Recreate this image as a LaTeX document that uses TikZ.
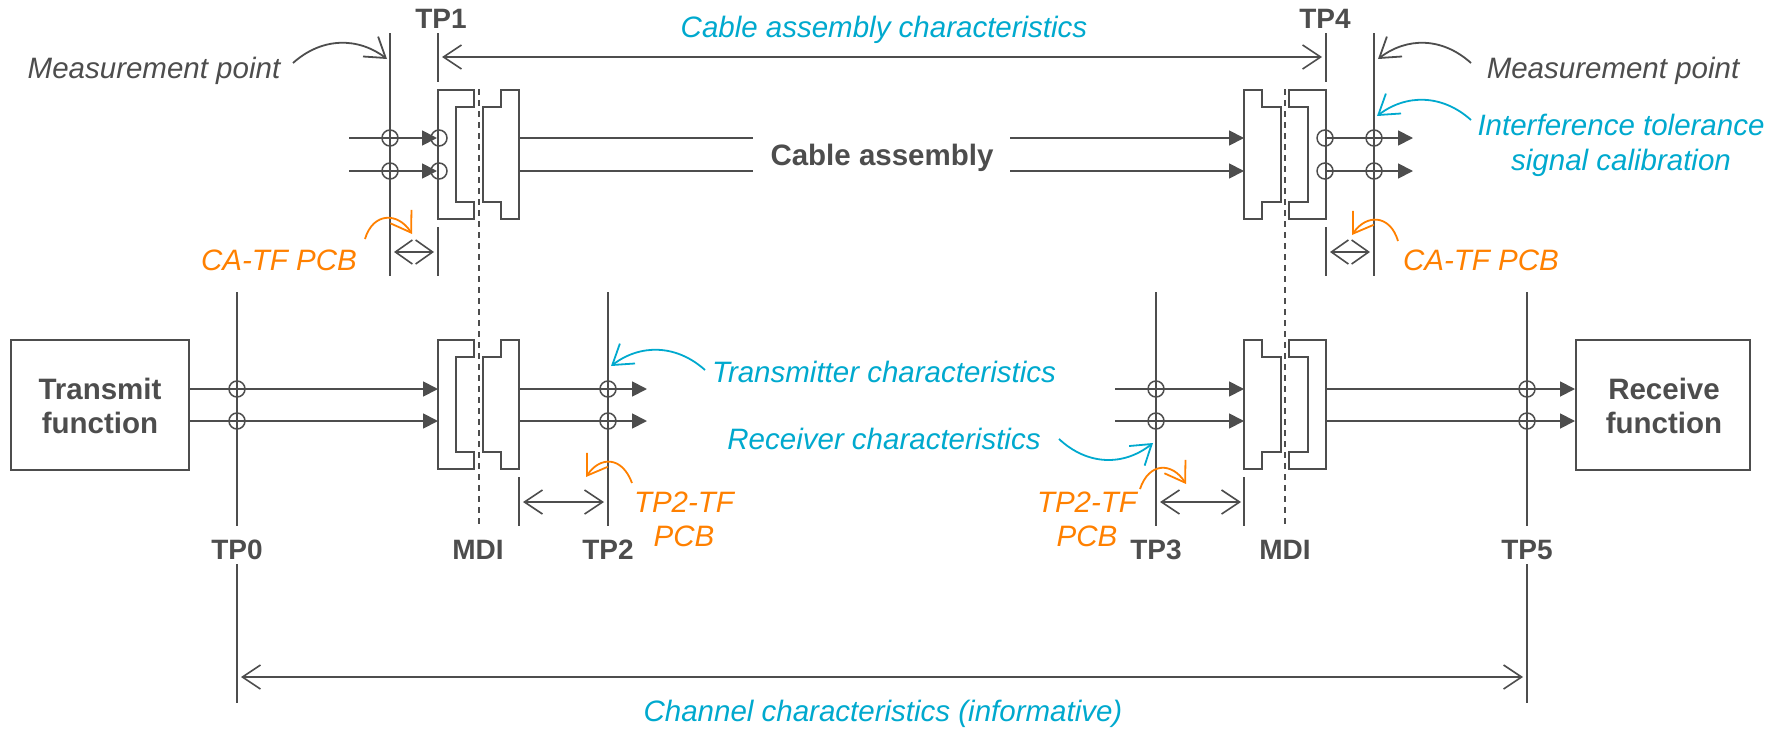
\documentclass[tikz,border=0pt]{standalone}
\usepackage{fontspec}
\setmainfont{Liberation Sans}
\usetikzlibrary{arrows.meta}
\definecolor{ink}{HTML}{4D4D4D}
\definecolor{sky}{HTML}{00A9CE}
\definecolor{amber}{HTML}{FF8000}
\tikzset{
  wire/.style={draw=ink,line width=1.8pt},
  flow/.style={wire,-{Triangle[length=15pt,width=15pt]}},
  span/.style={draw=ink,line width=1.6pt,{Straight Barb[length=18pt,width=24pt,line width=1.6pt]}-{Straight Barb[length=18pt,width=24pt,line width=1.6pt]}},
  spanshort/.style={draw=ink,line width=1.6pt,{Straight Barb[length=17pt,width=24pt,line width=1.6pt]}-{Straight Barb[length=17pt,width=24pt,line width=1.6pt]}},
  hook/.style={line width=1.8pt,-{Straight Barb[length=19pt,width=25pt,line width=1.8pt]}},
  probe/.style={circle,draw=ink,line width=1.5pt,minimum size=16pt,inner sep=0pt},
  mdiline/.style={draw=ink,line width=1.4pt,dash pattern=on 6pt off 5pt},
  part/.style={draw=ink,line width=1.7pt,line join=miter},
  blockbox/.style={draw=ink,line width=1.7pt,fill=white},
  hd/.style={text=ink,font=\fontsize{29.5}{34}\selectfont\bfseries,align=center,inner sep=0pt},
  tag/.style={text=ink,font=\fontsize{28}{32}\selectfont\bfseries,align=center,inner sep=0pt},
  note/.style={text=ink,font=\fontsize{29.5}{32}\selectfont\itshape,align=center,inner sep=0pt},
  cyannote/.style={text=sky,font=\fontsize{29.5}{35}\selectfont\itshape,align=center,inner sep=0pt},
  amnote/.style={text=amber,font=\fontsize{29.5}{34}\selectfont\itshape,align=center,inner sep=0pt},
  socketL/.pic={\draw[part] (36,0)--(0,0)--(0,129)--(36,129)--(36,112)--(18,112)--(18,17)--(36,17)--cycle;},
  plugL/.pic={\draw[part] (18,0)--(36,0)--(36,129)--(18,129)--(18,112)--(0,112)--(0,17)--(18,17)--cycle;},
  plugR/.pic={\draw[part] (18,0)--(0,0)--(0,129)--(18,129)--(18,112)--(37,112)--(37,17)--(18,17)--cycle;},
  socketR/.pic={\draw[part] (0,0)--(37,0)--(37,129)--(0,129)--(0,112)--(19,112)--(19,17)--(0,17)--cycle;},
}
\begin{document}
\begin{tikzpicture}[x=1pt,y=-1pt]
\useasboundingbox (0,0) rectangle (1779,728);
% connectors bodies
\pic at (438,90) {socketL}; \pic at (483,90) {plugL};
\pic at (1244,90) {plugR}; \pic at (1289,90) {socketR};
\pic at (438,340) {socketL}; \pic at (483,340) {plugL};
\pic at (1244,340) {plugR}; \pic at (1289,340) {socketR};
% blocks
\node[blockbox,minimum width=178pt,minimum height=130pt,inner sep=0pt,anchor=north west] (tx) at (10,339) {};
\node[blockbox,minimum width=174pt,minimum height=130pt,inner sep=0pt,anchor=north west] (rx) at (1575,339) {};
\node[hd] (txl) at (100,406) {Transmit\\function};
\node[hd] (rxl) at (1664,406) {Receive\\function};
% MDI lines
\coordinate (m1a) at (479,89); \coordinate (m1b) at (479,526);
\coordinate (m2a) at (1285,89); \coordinate (m2b) at (1285,526);
\draw[mdiline] (m1a)--(m1b);
\draw[mdiline] (m2a)--(m2b);
% vertical reference lines
\foreach \n/\x/\a/\b in {mpl/390/33/276,mpr/1374/33/276,tp1a/438/33/82,tp1b/438/227/276,tp4a/1326/33/82,tp4b/1326/227/276,
  tp0a/237/292/526,tp0b/237/564/703,tp5a/1527/292/526,tp5b/1527/564/703,tp2/608/292/526,tp3/1156/292/526,ka/519/477/526,kb/1244/477/526}{
  \coordinate (\n-s) at (\x,\a); \coordinate (\n-e) at (\x,\b);
  \draw[wire] (\n-s)--(\n-e);
}
% signal paths
\foreach \n/\y in {1/138,2/171}{
  \coordinate (ua\n) at (349,\y); \coordinate (ub\n) at (437,\y);
  \coordinate (uc\n) at (519,\y); \coordinate (ud\n) at (753,\y);
  \coordinate (ue\n) at (1010,\y); \coordinate (uf\n) at (1244,\y);
  \coordinate (ug\n) at (1326,\y); \coordinate (uh\n) at (1413,\y);
  \node[probe] (p1\n) at (390,\y) {};
  \node[probe] (p2\n) at (439,\y) {};
  \node[probe] (p3\n) at (1325,\y) {};
  \node[probe] (p4\n) at (1374,\y) {};
  \draw[flow] (ua\n)--(ub\n);
  \draw[wire] (uc\n)--(ud\n);
  \draw[flow] (ue\n)--(uf\n);
  \draw[flow] (ug\n)--(uh\n);
}
\foreach \n/\y in {1/389,2/421}{
  \coordinate (la\n) at (188,\y); \coordinate (lb\n) at (438,\y);
  \coordinate (lc\n) at (519,\y); \coordinate (ld\n) at (647,\y);
  \coordinate (le\n) at (1115,\y); \coordinate (lf\n) at (1244,\y);
  \coordinate (lg\n) at (1326,\y); \coordinate (lh\n) at (1575,\y);
  \node[probe] (q1\n) at (237,\y) {};
  \node[probe] (q2\n) at (608,\y) {};
  \node[probe] (q3\n) at (1156,\y) {};
  \node[probe] (q4\n) at (1527,\y) {};
  \draw[flow] (la\n)--(lb\n);
  \draw[flow] (lc\n)--(ld\n);
  \draw[flow] (le\n)--(lf\n);
  \draw[flow] (lg\n)--(lh\n);
}
% spans
\coordinate (sa1) at (442,57); \coordinate (sa2) at (1322,57);
\draw[span] (sa1)--(sa2);
\coordinate (sb1) at (394,252); \coordinate (sb2) at (434,252);
\draw[spanshort] (sb1)--(sb2);
\coordinate (sc1) at (1330,252); \coordinate (sc2) at (1370,252);
\draw[spanshort] (sc1)--(sc2);
\coordinate (sd1) at (523,502); \coordinate (sd2) at (604,502);
\draw[span] (sd1)--(sd2);
\coordinate (se1) at (1160,502); \coordinate (se2) at (1241,502);
\draw[span] (se1)--(se2);
\coordinate (sf1) at (241,677); \coordinate (sf2) at (1523,677);
\draw[span] (sf1)--(sf2);
% curved pointers
\coordinate (h1) at (293,63); \coordinate (h1e) at (387,59);
\draw[hook,ink] (h1) .. controls (322,37) and (358,37) .. (h1e);
\coordinate (h2) at (1471,63); \coordinate (h2e) at (1378,59);
\draw[hook,ink] (h2) .. controls (1442,37) and (1407,37) .. (h2e);
\coordinate (h3) at (1471,120); \coordinate (h3e) at (1377,116);
\draw[hook,sky] (h3) .. controls (1442,94) and (1406,94) .. (h3e);
\coordinate (h4) at (705,370); \coordinate (h4e) at (611,366);
\draw[hook,sky] (h4) .. controls (676,344) and (640,344) .. (h4e);
\coordinate (h5) at (1059,439); \coordinate (h5e) at (1153,443);
\draw[hook,sky] (h5) .. controls (1088,466) and (1124,466) .. (h5e);
\coordinate (h6) at (365,239); \coordinate (h6e) at (412,234);
\draw[hook,amber] (h6) .. controls (373,212) and (398,212) .. (h6e);
\coordinate (h7) at (1398,241); \coordinate (h7e) at (1352,235);
\draw[hook,amber] (h7) .. controls (1390,214) and (1366,214) .. (h7e);
\coordinate (h8) at (632,483); \coordinate (h8e) at (586,477);
\draw[hook,amber] (h8) .. controls (622,456) and (600,456) .. (h8e);
\coordinate (h9) at (1140,489); \coordinate (h9e) at (1186,484);
\draw[hook,amber] (h9) .. controls (1149,462) and (1172,462) .. (h9e);
% labels
\node[tag] (ltp1) at (441,19) {TP1};
\node[tag] (ltp4) at (1325,19) {TP4};
\node[hd] (lca) at (882,158) {Cable assembly};
\node[tag] (ltp0) at (237,550) {TP0};
\node[tag] (lm1) at (478,550) {MDI};
\node[tag] (ltp2) at (608,550) {TP2};
\node[tag] (ltp3) at (1156,550) {TP3};
\node[tag] (lm2) at (1285,550) {MDI};
\node[tag] (ltp5) at (1527,550) {TP5};
\node[note] (lmp1) at (154,71) {Measurement point};
\node[note] (lmp2) at (1613,71) {Measurement point};
\node[cyannote] (lcac) at (884,30) {Cable assembly characteristics};
\node[cyannote] (lint) at (1621,145) {Interference tolerance\\signal calibration};
\node[cyannote] (ltx) at (884,372) {Transmitter characteristics};
\node[cyannote] (lrx) at (884,439) {Receiver characteristics};
\node[cyannote] (lch) at (883,714) {Channel characteristics (informative)};
\node[amnote] (lcf1) at (279,260) {CA-TF PCB};
\node[amnote] (lcf2) at (1481,260) {CA-TF PCB};
\node[amnote] (ltf1) at (684,519) {TP2-TF\\PCB};
\node[amnote] (ltf2) at (1087,519) {TP2-TF\\PCB};
\end{tikzpicture}
\end{document}
